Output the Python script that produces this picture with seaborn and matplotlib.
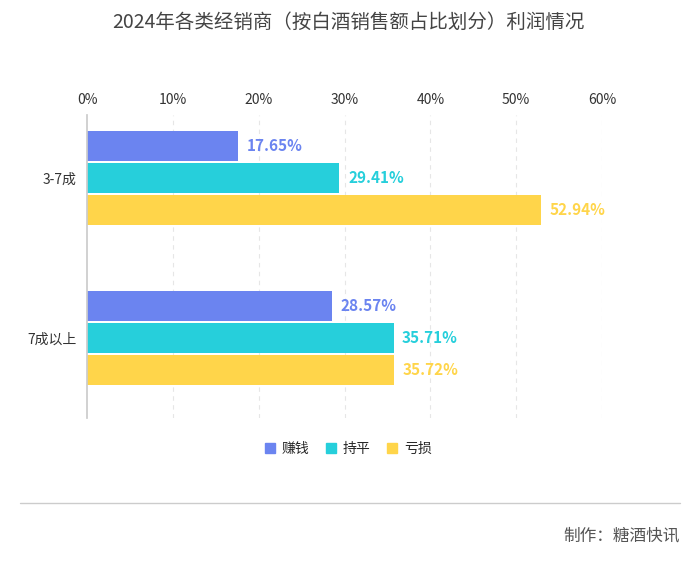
import matplotlib
matplotlib.use("Agg")
import matplotlib.pyplot as plt
import seaborn as sns
import pandas as pd

categories = ["3-7成", "7成以上"]
series = ["赚钱", "持平", "亏损"]
values = {"赚钱": [17.65, 28.57], "持平": [29.41, 35.71], "亏损": [52.94, 35.72]}
colors = ["#6B84F0", "#26CFDB", "#FFD54A"]
xticks = [0, 10, 20, 30, 40, 50, 60]

sns.set_theme(style="white")
plt.rcParams['font.family'] = ['Noto Sans CJK SC', 'DejaVu Sans']

rows = [(c, s, values[s][i]) for s in series for i, c in enumerate(categories)]
df = pd.DataFrame(rows, columns=["cat", "series", "val"])

fig = plt.figure(figsize=(6.97, 5.64), dpi=100)
ax = fig.add_axes([87/697, 1-418/564, (602-87)/697, (418-115)/564])
sns.barplot(data=df, y="cat", x="val", hue="series", palette=colors, orient="h",
            width=0.6, gap=0.08, saturation=1, linewidth=0, ax=ax, legend=False)
ax.set_xlim(0, 60)
ax.set_ylim(1.5, -0.394)
ax.xaxis.tick_top()
ax.set_xticks(xticks)
ax.set_xticklabels([f"{t}%" for t in xticks], fontsize=10, color="#333333")
ax.tick_params(axis="x", length=0, pad=6)
ax.tick_params(axis="y", length=4, color="#cccccc", labelsize=10, labelcolor="#333333")
ax.set_xlabel(""); ax.set_ylabel("")
for sp in ["top", "right", "bottom"]:
    ax.spines[sp].set_visible(False)
ax.spines["left"].set_color("#cccccc")
for t in xticks[1:]:
    ax.axvline(t, color="#e6e6e6", lw=0.8, ls=(0, (4, 4)), zorder=0)
for cont, s, col in zip(ax.containers, series, colors):
    for bar, v in zip(cont, values[s]):
        ax.text(bar.get_width() + 1.0, bar.get_y() + bar.get_height()/2, f"{v:.2f}%",
                va="center", ha="left", color=col, fontsize=11, fontweight="bold")

from matplotlib.patches import Patch
handles = [Patch(color=c, label=s) for s, c in zip(series, colors)]
fig.legend(handles=handles, loc="center", bbox_to_anchor=(0.5, 1-449/564), ncol=3,
           frameon=False, fontsize=10, handlelength=0.7, handleheight=0.7,
           columnspacing=1.2, handletextpad=0.5)
fig.text(0.5, 1-22/564, "2024年各类经销商（按白酒销售额占比划分）利润情况",
         ha="center", va="center", fontsize=14, color="#444444")
fig.add_artist(plt.Line2D([20/697, 680/697], [1-503/564]*2, color="#cccccc", lw=1))
fig.text(680/697, 1-536/564, "制作：糖酒快讯", ha="right", va="center", fontsize=12, color="#555555")
fig.savefig("out.png", dpi=100)
